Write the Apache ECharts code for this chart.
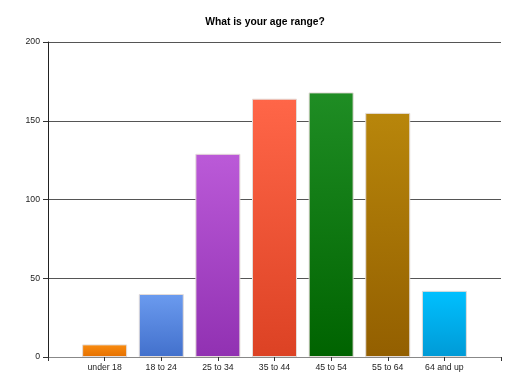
<!DOCTYPE html>
<html><head><meta charset="utf-8">
<script src="https://cdn.jsdelivr.net/npm/echarts@6/dist/echarts.min.js"></script>
<style>html,body{margin:0;padding:0;background:#fff}#c{width:520px;height:390px}</style>
</head><body><div id="c"></div>
<script>
const categories = ['under 18','18 to 24','25 to 34','35 to 44','45 to 54','55 to 64','64 and up'];
const values = [8, 40, 129, 164, 168, 155, 42];
const topColors = ['#f98c10','#6b9bef','#bb5ad8','#ff6648','#1f8d24','#b8860b','#00c0ff'];
const bottomColors = ['#e57000','#4270cc','#9131b2','#dc4224','#006300','#935f00','#009ad6'];
const yTicks = [0, 50, 100, 150, 200];

const chart = echarts.init(document.getElementById('c'));
const font = '"Liberation Sans", Arial, sans-serif';
chart.setOption({
  animation: false,
  title: { text: 'What is your age range?', left: 260, top: 12, textAlign: 'center',
    textStyle: { fontFamily: font, fontSize: 10.3, fontWeight: 'bold', color: '#000' } },
  grid: { left: 48, right: 19, top: 42, bottom: 33, containLabel: false },
  xAxis: {
    type: 'value', min: 0, max: categories.length + 1, interval: 1,
    axisLine: { show: true, onZero: false, lineStyle: { color: '#888', width: 1 } },
    axisTick: { show: true, length: 4, lineStyle: { color: '#333' } },
    splitLine: { show: false },
    axisLabel: { fontFamily: font, fontSize: 8.7, color: '#222', margin: 6,
      formatter: v => (v >= 1 && v <= categories.length) ? categories[v - 1] : '' }
  },
  yAxis: {
    type: 'value', min: yTicks[0], max: yTicks[yTicks.length - 1], interval: 50,
    axisLine: { show: true, lineStyle: { color: '#222', width: 1 } },
    axisTick: { show: true, length: 5, lineStyle: { color: '#333' } },
    splitLine: { show: true, lineStyle: { color: '#555', width: 1 } },
    axisLabel: { fontFamily: font, fontSize: 8.7, color: '#222', margin: 8 }
  },
  series: [{
    type: 'bar', barWidth: 45,
    data: values.map((v, i) => ({
      value: [i + 1, v],
      itemStyle: {
        color: new echarts.graphic.LinearGradient(0, 0, 0, 1, [
          { offset: 0, color: topColors[i] }, { offset: 1, color: bottomColors[i] }]),
        borderColor: '#e4dcd8', borderWidth: 1
      }
    }))
  }]
});
</script></body></html>
